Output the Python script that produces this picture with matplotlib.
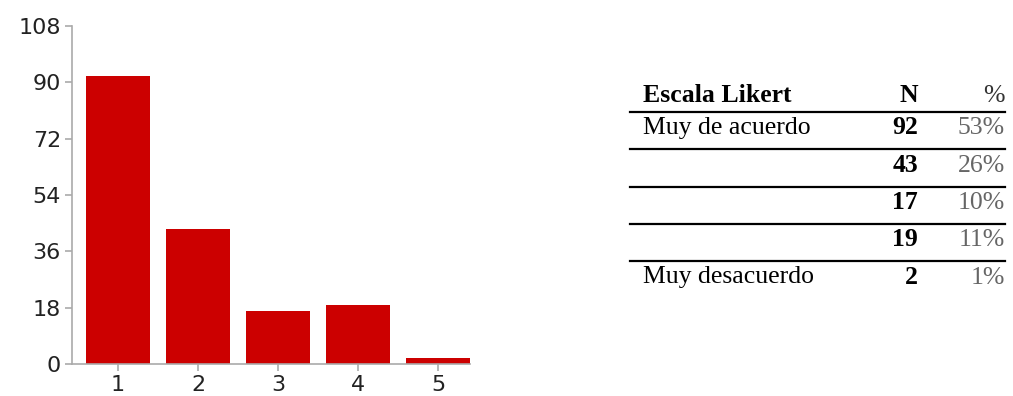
import matplotlib.pyplot as plt
from matplotlib.lines import Line2D

# DATA
categories = ['1', '2', '3', '4', '5']
counts = [92, 43, 17, 19, 2]
y_ticks = [0, 18, 36, 54, 72, 90, 108]

table_header = ['Escala Likert', 'N', '%']
row_labels = ['Muy de acuerdo', '', '', '', 'Muy desacuerdo']
row_n = ['92', '43', '17', '19', '2']
row_pct = ['53%', '26%', '10%', '11%', '1%']

W, H = 1013, 396
fig = plt.figure(figsize=(W / 100, H / 100), dpi=100)

# bar chart
ax = fig.add_axes([72 / W, 1 - 364 / H, (470 - 72) / W, (364 - 26) / H])
x = list(range(1, len(counts) + 1))
ax.bar(x, counts, width=0.8, color='#cc0000')
ax.set_xlim(0.425, 5.4)
ax.set_ylim(0, 108)
ax.set_yticks(y_ticks)
ax.set_xticks(x)
ax.set_xticklabels(categories)
for side in ['top', 'right']:
    ax.spines[side].set_visible(False)
for side in ['left', 'bottom']:
    ax.spines[side].set_color('#aaaaaa')
    ax.spines[side].set_linewidth(1.2)
ax.tick_params(colors='#aaaaaa', length=5, width=1.2, labelcolor='#222222',
               labelsize=16)
ax.tick_params(axis='y', pad=3)
ax.tick_params(axis='x', pad=3)
for lbl in ax.get_xticklabels() + ax.get_yticklabels():
    lbl.set_fontfamily('DejaVu Sans')

# table on the right
serif = 'Liberation Serif'
fs = 18.5
x_lab, x_n, x_pct = 643 / W, 918 / W, 1005 / W
base0 = 102
step = 37.3

def fy(py):
    return 1 - py / H

fig.text(x_lab, fy(base0), table_header[0], family=serif, size=fs,
         weight='bold', va='baseline', ha='left')
fig.text(x_n, fy(base0), table_header[1], family=serif, size=fs,
         weight='bold', va='baseline', ha='right')
fig.text(x_pct, fy(base0), table_header[2], family=serif, size=fs,
         va='baseline', ha='right', color='#333333')

for i in range(len(row_n)):
    yb = base0 + step * (i + 1) - 5
    fig.text(x_lab, fy(yb), row_labels[i], family=serif, size=fs,
             va='baseline', ha='left')
    fig.text(x_n, fy(yb), row_n[i], family=serif, size=fs, weight='bold',
             va='baseline', ha='right')
    fig.text(x_pct, fy(yb), row_pct[i], family=serif, size=fs,
             va='baseline', ha='right', color='#666666')

# rule under the header and between the data rows
for i in range(len(row_n)):
    ly = 112 + step * i
    fig.add_artist(Line2D([630 / W, 1005 / W], [fy(ly), fy(ly)],
                          color='black', linewidth=1.6))

fig.savefig('out.png', dpi=100)
